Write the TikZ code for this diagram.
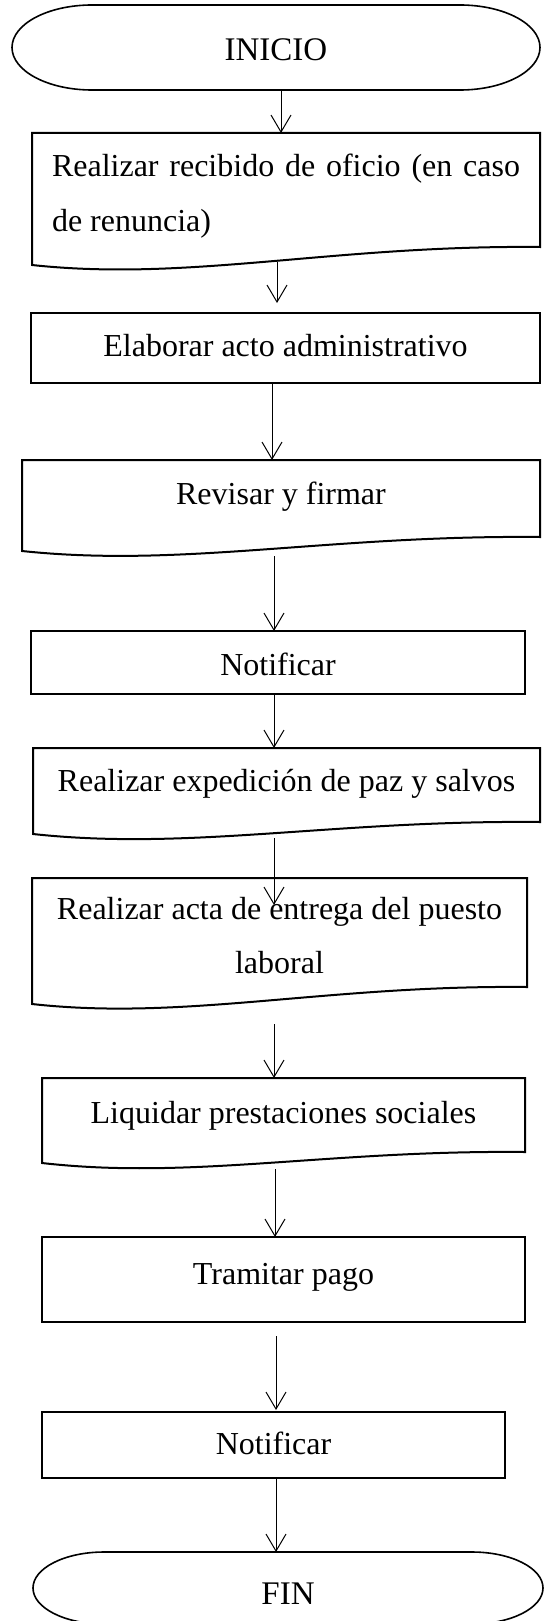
\documentclass[tikz,border=0pt]{standalone}
\usepackage{fontspec}
\setmainfont{Liberation Serif}
\usepackage{tikz}
\usetikzlibrary{arrows.meta,calc}

\begin{document}
\begin{tikzpicture}[x=1pt, y=1pt, >={Straight Barb[length=17pt,width=20pt]},
  base/.style={anchor=north west, align=center, inner xsep=0pt, inner ysep=0pt, outer sep=0pt,
    font=\fontsize{32}{54.5}\selectfont, execute at begin node={\spaceskip=.25em\relax}},
  proc/.style={base, draw, line width=2pt},
  doc/.style={base},
  term/.style={base, font=\fontsize{33}{40}\selectfont},
  outline/.style={line width=2pt},
  arr/.style={->, line width=1pt}]
\useasboundingbox (0,0) rectangle (546,-1621);
\fill[white] (0,0) rectangle (546,-1621);
% steps, top to bottom
\node[term, text width=528pt, text height=56pt, text depth=29pt] (ini) at (12,-5) {INICIO};
\node[doc, align=left, inner xsep=20pt, text width=468pt, text height=44pt, text depth=88pt] (rec) at (32,-133) {\spaceskip=0pt\makebox[468pt][s]{Realizar recibido de oficio (en caso}\\de renuncia)};
\node[proc, text width=509pt, text height=43pt, text depth=27pt] (ela) at (31,-313) {Elaborar acto administrativo};
\node[doc, text width=518pt, text height=44pt, text depth=47pt] (rev) at (22,-460) {Revisar y firmar};
\node[proc, text width=494pt, text height=44pt, text depth=19pt] (not1) at (31,-631) {Notificar};
\node[doc, text width=507pt, text height=43pt, text depth=43pt] (exp) at (33,-748) {Realizar expedición de paz y salvos};
\node[doc, text width=495pt, text height=41pt, text depth=85pt] (act) at (32,-878) {Realizar acta de entrega del puesto\\laboral};
\node[doc, text width=483pt, text height=45pt, text depth=40pt] (liq) at (42,-1078) {Liquidar prestaciones sociales};
\node[proc, text width=483pt, text height=47pt, text depth=38pt] (tram) at (42,-1237) {Tramitar pago};
\node[proc, text width=463pt, text height=42pt, text depth=24pt] (not2) at (42,-1412) {Notificar};
\node[term, text width=510pt, text height=52pt, text depth=20pt] (fin) at (33,-1552) {FIN};
% terminal outlines
\foreach \n/\r/\s in {ini/80/42.5, fin/71/36}
  \draw[line width=1.6pt] ([xshift=\r pt]\n.north west) -- ([xshift=-\r pt]\n.north east)
    arc[start angle=90, end angle=-90, x radius=\r pt, y radius=\s pt] -- ([xshift=\r pt]\n.south west)
    arc[start angle=270, end angle=90, x radius=\r pt, y radius=\s pt] -- cycle;
% document outlines with wavy bottom
\foreach \n/\d in {rec/18, rev/14, exp/12, act/17, liq/11}
  \draw[outline] (\n.north west) -- (\n.north east) -- ([yshift=\d pt]\n.south east)
    .. controls ($(\n.south west)!0.59!(\n.south east)+(0,\d+2)$) and ($(\n.south west)!0.31!(\n.south east)+(0,-17)$) .. (\n.south west) -- cycle;
% connectors
\draw[arr] (ini.south -| 281,0) -- (rec.north -| 281,0);
\draw[arr] ([yshift=3pt]rec.south -| 277,0) -- ([yshift=10pt]ela.north -| 277,0);
\draw[arr] (ela.south -| 272,0) -- (rev.north -| 272,0);
\draw[arr] ([yshift=-5pt]rev.south -| 274,0) -- (not1.north -| 274,0);
\draw[arr] (not1.south -| 274,0) -- (exp.north -| 274,0);
\draw[arr] ([yshift=-4pt]exp.south -| 274,0) -- ([yshift=-27pt]act.north -| 274,0);
\draw[arr] ([yshift=-20pt]act.south -| 274,0) -- (liq.north -| 274,0);
\draw[arr] ([yshift=-6pt]liq.south -| 275,0) -- (tram.north -| 275,0);
\draw[arr] ([yshift=-14pt]tram.south -| 276,0) -- ([yshift=2pt]not2.north -| 276,0);
\draw[arr] (not2.south -| 276,0) -- (fin.north -| 276,0);
\end{tikzpicture}
\end{document}
